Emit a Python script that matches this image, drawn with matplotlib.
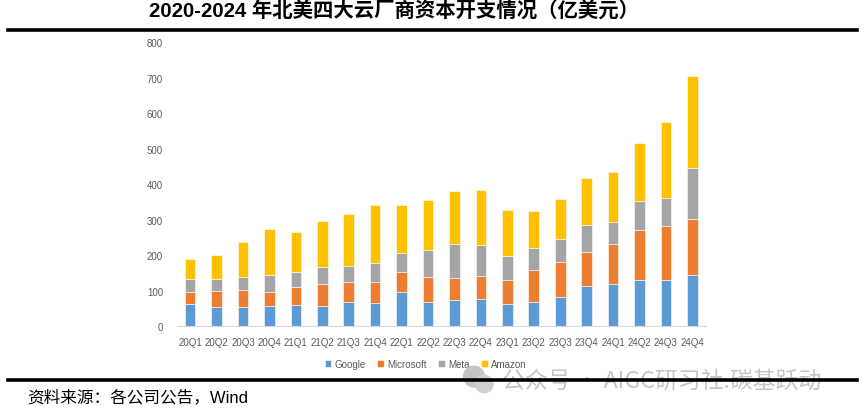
import matplotlib.pyplot as plt
import numpy as np
from matplotlib.patches import Ellipse

plt.rcParams["font.family"] = ["Liberation Sans", "Noto Sans CJK SC", "DejaVu Sans"]

quarters = ["20Q1", "20Q2", "20Q3", "20Q4", "21Q1", "21Q2", "21Q3", "21Q4",
            "22Q1", "22Q2", "22Q3", "22Q4", "23Q1", "23Q2", "23Q3", "23Q4",
            "24Q1", "24Q2", "24Q3", "24Q4"]
google = [61, 53, 53, 55, 59, 55, 68, 65, 97, 68, 72, 77, 63, 69, 83, 112, 119, 131, 131, 143]
microsoft = [36, 47, 49, 42, 51, 64, 57, 59, 54, 69, 64, 63, 67, 90, 96, 96, 112, 140, 150, 158]
meta = [36, 33, 37, 46, 42, 46, 45, 53, 55, 77, 94, 89, 66, 61, 67, 76, 63, 82, 80, 144]
amazon = [57, 67, 99, 131, 114, 131, 146, 165, 136, 141, 149, 154, 132, 104, 113, 134, 139, 163, 215, 260]

series = [("Google", google, "#5B9BD5"),
          ("Microsoft", microsoft, "#ED7D31"),
          ("Meta", meta, "#A5A5A5"),
          ("Amazon", amazon, "#FFC000")]

fig = plt.figure(figsize=(8.65, 4.14), dpi=100)
ax = fig.add_axes([0.2046, 0.2101, 0.6111, 0.686])

x = np.arange(len(quarters))
bottom = np.zeros(len(quarters))
for name, vals, color in series:
    ax.bar(x, vals, bottom=bottom, width=0.4, color=color, label=name,
           edgecolor="white", linewidth=0.4)
    bottom += np.array(vals)

ax.set_xlim(-0.5, len(quarters) - 0.5)
ax.set_ylim(0, 800)
ax.set_yticks(range(0, 801, 100))
ax.set_xticks(x)
ax.set_xticklabels(quarters)
ax.tick_params(axis="both", length=0, labelsize=7, colors="#595959")
ax.tick_params(axis="y", pad=10)
ax.tick_params(axis="x", pad=8)
for s in ("top", "right", "left"):
    ax.spines[s].set_visible(False)
ax.spines["bottom"].set_color("#D9D9D9")

ax.legend(loc="upper center", bbox_to_anchor=(0.47, -0.085), ncol=4,
          frameon=False, fontsize=7, handlelength=0.7, handleheight=0.7,
          handletextpad=0.3, columnspacing=1.2, labelcolor="#595959")

# title and rules
fig.text(0.456, 0.971, "2020-2024 年北美四大云厂商资本开支情况（亿美元）",
         ha="center", va="center", fontsize=14.7, fontweight="bold",
         family=["Liberation Sans", "Noto Sans CJK SC"])
fig.add_artist(plt.Line2D([0.009, 0.991], [0.925, 0.925], color="black", lw=2.6))

# watermark (under the bottom rule)
fig.text(0.580, 0.079, "公众号 · AIGC研习社.碳基跃动", ha="left", va="center",
         fontsize=16.5, color="#C4C4C4", zorder=1,
         family=["Noto Sans CJK SC", "DejaVu Sans"])
fig.add_artist(Ellipse((0.548, 0.088), 0.024, 0.05, transform=fig.transFigure,
                       color="#C4C4C4", zorder=1))
fig.add_artist(Ellipse((0.560, 0.070), 0.02, 0.042, transform=fig.transFigure,
                       color="#CFCFCF", zorder=1))

fig.add_artist(plt.Line2D([0.009, 0.991], [0.079, 0.079], color="black", lw=2.6,
                          zorder=5))

fig.text(0.031, 0.040, "资料来源：各公司公告，Wind", ha="left", va="center",
         fontsize=12, family=["Liberation Sans", "Noto Sans CJK SC"])

fig.savefig("out.png", dpi=100)
